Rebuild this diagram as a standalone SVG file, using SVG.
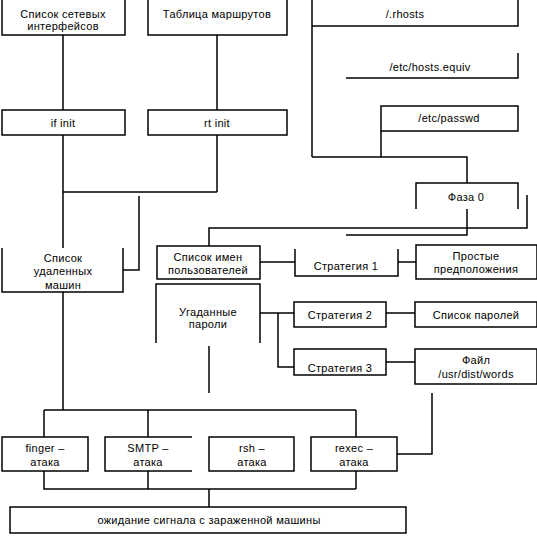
<svg xmlns="http://www.w3.org/2000/svg" width="537" height="537" viewBox="0 0 537 537">
<style>
.b{fill:none;stroke:#000;stroke-width:1.5}
.c{fill:none;stroke:#000;stroke-width:1.5}
text{font-family:"Liberation Sans",Arial,sans-serif;font-size:11px;fill:#000;text-anchor:middle;letter-spacing:0.3px}
</style>
<rect width="537" height="537" fill="#fff"/>
<g id="connectors" class="c">
<path d="M63 35V110M217 35V110"/>
<path d="M63 135V248M63 192H217M217 135V192"/>
<path d="M139 196V270H123"/>
<path d="M63 292V410M44 410H356M44 410V437M148 410V437M356 410V437"/>
<path d="M44 471V489H356M148 471V489M356 471V489M209 489V507"/>
<path d="M397 454H432V393"/>
<path d="M312 157H467V183"/>
<path d="M381 131V157"/>
<path d="M467 209V235H346"/>
<path d="M209 246V228H527V195"/>
<path d="M260 262H295M398 262H416"/>
<path d="M260 313H294M278 313V367H294M386 313H415M386 362H415"/>
<path d="M209 346V393"/>
</g>
<g id="n-netif"><path class="b" d="M2 0V35H125V0"/><text x="63" y="18">Список сетевых</text><text x="63" y="30">интерфейсов</text></g>
<g id="n-routes"><path class="b" d="M148 0V35H287V0"/><text x="217" y="18">Таблица маршрутов</text></g>
<g id="n-rhosts"><path class="b" d="M312 0V157M312 26H518V0"/><text x="405" y="18">/.rhosts</text></g>
<g id="n-hostsequiv"><path class="b" d="M346 78H518V53"/><text x="430" y="71">/etc/hosts.equiv</text></g>
<g id="n-passwd"><rect class="b" x="381" y="106" width="137" height="25"/><text x="449" y="122">/etc/passwd</text></g>
<g id="n-ifinit"><rect class="b" x="2" y="110" width="123" height="25"/><text x="63" y="127">if init</text></g>
<g id="n-rtinit"><rect class="b" x="148" y="110" width="139" height="25"/><text x="217" y="127">rt init</text></g>
<g id="n-phase0"><path class="b" d="M416 209V183H518V209"/><text x="466" y="201">Фаза 0</text></g>
<g id="n-remote"><path class="b" d="M2 248V292H123V248"/><text x="63" y="262">Список</text><text x="63" y="275">удаленных</text><text x="63" y="289">машин</text></g>
<g id="n-users"><rect class="b" x="157" y="246" width="103" height="33"/><text x="208" y="261">Список имен</text><text x="208" y="274">пользователей</text></g>
<g id="n-s1"><path class="b" d="M295 249V276H398V249"/><text x="346" y="270">Стратегия 1</text></g>
<g id="n-simple"><rect class="b" x="416" y="245" width="121" height="34"/><text x="476" y="260">Простые</text><text x="476" y="273">предположения</text></g>
<g id="n-guessed"><path class="b" d="M156 343V284H260V343"/><text x="208" y="316">Угаданные</text><text x="208" y="328">пароли</text></g>
<g id="n-s2"><rect class="b" x="294" y="302" width="92" height="25"/><text x="340" y="319">Стратегия 2</text></g>
<g id="n-pwlist"><rect class="b" x="415" y="302" width="122" height="25"/><text x="476" y="319">Список паролей</text></g>
<g id="n-s3"><rect class="b" x="294" y="349" width="92" height="26"/><text x="340" y="372">Стратегия 3</text></g>
<g id="n-words"><rect class="b" x="415" y="349" width="122" height="35"/><text x="476" y="364">Файл</text><text x="476" y="378">/usr/dist/words</text></g>
<g id="n-finger"><rect class="b" x="2" y="437" width="86" height="34"/><text x="45" y="452">finger –</text><text x="45" y="466">атака</text></g>
<g id="n-smtp"><path class="b" d="M192 437H105V471H192"/><text x="148" y="452">SMTP –</text><text x="148" y="466">атака</text></g>
<g id="n-rsh"><rect class="b" x="209" y="437" width="85" height="34"/><text x="252" y="452">rsh –</text><text x="252" y="466">атака</text></g>
<g id="n-rexec"><rect class="b" x="311" y="437" width="86" height="34"/><text x="354" y="452">rexec –</text><text x="354" y="466">атака</text></g>
<g id="n-wait"><rect class="b" x="10" y="507" width="396" height="26"/><text x="209" y="524">ожидание сигнала с зараженной машины</text></g>
</svg>
